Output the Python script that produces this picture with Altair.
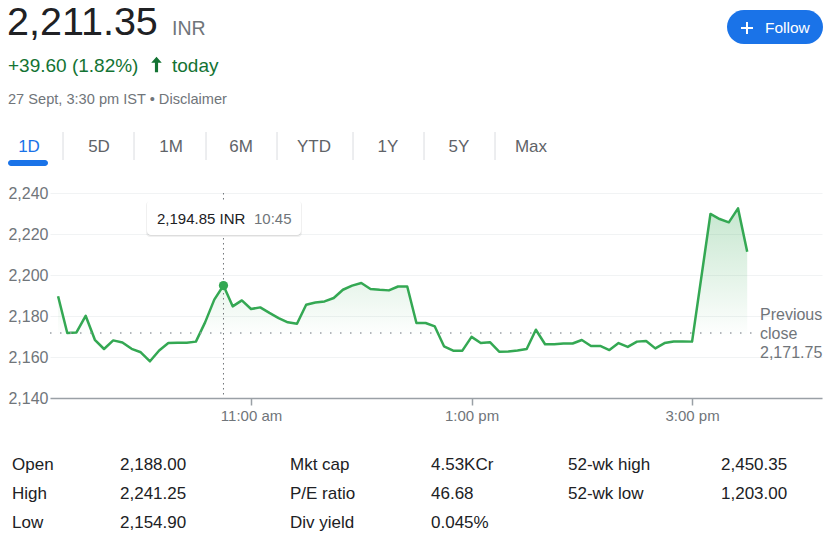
import altair as alt
import pandas as pd

FONT = "Liberation Sans, Arial, Helvetica, sans-serif"

# ---------------- data ----------------
times = [
    "9:15", "9:20", "9:25", "9:30", "9:35", "9:40", "9:45", "9:50", "9:55",
    "10:00", "10:05", "10:10", "10:15", "10:20", "10:25", "10:30", "10:35", "10:40", "10:45", "10:50", "10:55",
    "11:00", "11:05", "11:10", "11:15", "11:20", "11:25", "11:30", "11:35", "11:40", "11:45", "11:50", "11:55",
    "12:00", "12:05", "12:10", "12:15", "12:20", "12:25", "12:30", "12:35", "12:40", "12:45", "12:50", "12:55",
    "13:00", "13:05", "13:10", "13:15", "13:20", "13:25", "13:30", "13:35", "13:40", "13:45", "13:50", "13:55",
    "14:00", "14:05", "14:10", "14:15", "14:20", "14:25", "14:30", "14:35", "14:40", "14:45", "14:50", "14:55",
    "15:00", "15:10", "15:15", "15:20", "15:25", "15:30",
]
prices = [
    2189.6, 2171.7, 2172.0, 2180.1, 2168.4, 2163.9, 2168.1, 2167.1, 2164.0,
    2162.3, 2157.9, 2163.2, 2166.8, 2167.0, 2167.0, 2167.5, 2176.9, 2188.0, 2194.85, 2184.7, 2187.6,
    2183.4, 2184.2, 2181.5, 2179.0, 2176.9, 2176.2, 2185.5, 2186.6, 2187.1, 2188.8, 2192.8, 2194.8,
    2196.1, 2193.2, 2192.8, 2192.5, 2194.4, 2194.4, 2176.6, 2176.6, 2174.9, 2165.2, 2163.1, 2163.1,
    2169.8, 2166.8, 2167.2, 2162.6, 2162.7, 2163.2, 2163.9, 2173.3, 2166.2, 2166.2, 2166.6, 2166.6,
    2168.3, 2165.4, 2165.4, 2163.4, 2166.8, 2164.9, 2167.5, 2167.8, 2164.2, 2166.8, 2167.6, 2167.6,
    2167.5, 2229.8, 2227.3, 2225.7, 2232.5, 2211.35,
]
previous_close = 2171.75
hover_time = "10:45"
hover_price = 2194.85

y_ticks = [2140, 2160, 2180, 2200, 2220, 2240]
x_tick_times = ["11:00", "13:00", "15:00"]
x_tick_labels = ["11:00 am", "1:00 pm", "3:00 pm"]

price_now = "2,211.35"
currency = "INR"
change_text = "+39.60 (1.82%)"
change_suffix = "today"
timestamp_text = "27 Sept, 3:30 pm IST • Disclaimer"
tabs = ["1D", "5D", "1M", "6M", "YTD", "1Y", "5Y", "Max"]
follow_label = "Follow"

stat_col1_labels = ["Open", "High", "Low"]
stat_col1_values = ["2,188.00", "2,241.25", "2,154.90"]
stat_col2_labels = ["Mkt cap", "P/E ratio", "Div yield"]
stat_col2_values = ["4.53KCr", "46.68", "0.045%"]
stat_col3_labels = ["52-wk high", "52-wk low"]
stat_col3_values = ["2,450.35", "1,203.00"]


def to_min(t):
    h, m = t.split(":")
    return int(h) * 60 + int(m)


df = pd.DataFrame({"minute": [to_min(t) for t in times], "price": prices})
hover_df = pd.DataFrame({"minute": [to_min(hover_time)], "price": [hover_price]})
pc_df = pd.DataFrame({"price": [previous_close]})

# ---------------- layout ----------------
PL, PT, PR, PB = 50, 193, 11, 141
W, H = 833 - PL - PR, 539 - PT - PB
GREEN = "#34a853"
DARK = "#202124"
GREY = "#70757a"
BLUE = "#1a73e8"

tick_vals = [to_min(t) for t in x_tick_times]
label_expr = " : ".join(
    f"datum.value == {v} ? '{l}'" for v, l in zip(tick_vals, x_tick_labels)
) + " : ''"

x_enc = alt.X(
    "minute:Q",
    scale=alt.Scale(domain=[550.6, 970.7], nice=False, zero=False),
    axis=alt.Axis(
        values=tick_vals, labelExpr=label_expr, title=None, grid=False,
        domainColor="#9aa0a6", domainWidth=1.5, tickColor="#9aa0a6", tickWidth=1.5,
        tickSize=7, labelPadding=3, labelFontSize=15, labelColor=GREY, labelFont=FONT,
    ),
)
y_enc = alt.Y(
    "price:Q",
    scale=alt.Scale(domain=[2140, 2240], nice=False, zero=False),
    axis=alt.Axis(
        values=y_ticks, format=",.0f", title=None, grid=True, gridColor="#f1f3f4",
        domain=False, ticks=False, labelPadding=2, labelFontSize=16, labelColor=GREY,
        labelFont=FONT,
    ),
)

base = pd.DataFrame({"k": [0]})


def text_at(s, X, Y, size, color, weight="normal", align="left"):
    return alt.Chart(base).mark_text(
        text=s, align=align, baseline="alphabetic", fontSize=size, color=color,
        font=FONT, fontWeight=weight,
    ).encode(x=alt.value(X - PL), y=alt.value(Y - PT))


def rect_at(X1, Y1, X2, Y2, color, radius=0, opacity=1.0):
    return alt.Chart(base).mark_rect(color=color, cornerRadius=radius, opacity=opacity).encode(
        x=alt.value(X1 - PL), x2=alt.value(X2 - PL), y=alt.value(Y1 - PT), y2=alt.value(Y2 - PT)
    )


def rule_at(X1, Y1, X2, Y2, color, width=1):
    return alt.Chart(base).mark_rule(color=color, strokeWidth=width).encode(
        x=alt.value(X1 - PL), x2=alt.value(X2 - PL), y=alt.value(Y1 - PT), y2=alt.value(Y2 - PT)
    )


layers = []

# area + line
area = alt.Chart(df).mark_area(
    color=alt.Gradient(
        gradient="linear",
        stops=[
            alt.GradientStop(color="rgba(52,168,83,0.28)", offset=0),
            alt.GradientStop(color="rgba(52,168,83,0.0)", offset=0.68),
        ],
        x1=1, x2=1, y1=0, y2=1,
    ),
    line=False,
).encode(x=x_enc, y=y_enc, y2=alt.datum(2140))
line = alt.Chart(df).mark_line(color=GREEN, strokeWidth=2.5, strokeJoin="round").encode(x=x_enc, y=y_enc)
layers += [area, line]

# previous close dotted line
pc_rule = alt.Chart(pc_df).mark_rule(color="#9aa0a6", strokeWidth=1.5, strokeDash=[1.5, 8.5]).encode(
    y=alt.Y("price:Q"), x=alt.value(0), x2=alt.value(702)
)
layers.append(pc_rule)
layers += [
    text_at("Previous", 760, 320, 16, GREY),
    text_at("close", 760, 339, 16, GREY),
    text_at(f"{previous_close:,.2f}", 760, 358, 16, GREY),
]

# hover crosshair + point + tooltip
hover_rule = alt.Chart(hover_df).mark_rule(color=GREY, strokeWidth=1, strokeDash=[1.5, 3.5]).encode(
    x=alt.X("minute:Q"), y=alt.value(0), y2=alt.value(H)
)
hover_pt = alt.Chart(hover_df).mark_point(filled=True, color=GREEN, size=85, opacity=1).encode(
    x=alt.X("minute:Q"), y=alt.Y("price:Q")
)
layers += [hover_rule, hover_pt]
layers += [
    rect_at(146, 201, 302, 237, "#000000", radius=4, opacity=0.06),
    rect_at(147, 201, 301, 236, "#000000", radius=4, opacity=0.08),
    rect_at(147, 200, 301, 235, "#ffffff", radius=4),
    text_at(f"{hover_price:,.2f} {currency}", 157, 224, 15, DARK),
    text_at(hover_time, 254, 224, 15, GREY),
]

# header
layers += [
    text_at(price_now, 7, 35, 39.5, DARK),
    text_at(currency, 172, 35, 19.5, GREY),
    text_at(change_text, 8, 72, 19, "#137333"),
    text_at(change_suffix, 172, 72, 19, "#137333"),
    alt.Chart(base).mark_point(
        shape="M0,-1.5L1,-0.35H0.3V1.5H-0.3V-0.35H-1Z", filled=True, color="#137333",
        size=110, opacity=1, strokeWidth=0,
    ).encode(x=alt.value(156.5 - PL), y=alt.value(64.5 - PT)),
    text_at(timestamp_text, 8, 104, 14.6, GREY),
]

# follow button
layers += [
    rect_at(727, 10, 823, 44, BLUE, radius=17),
    rule_at(741, 28, 753, 28, "#ffffff", 2),
    rule_at(747, 22, 747, 34, "#ffffff", 2),
    text_at(follow_label, 765, 33, 15.5, "#ffffff"),
]

# tabs
tab_centers = [29, 99, 171, 241, 314, 388, 459, 531]
for i, (t, cx) in enumerate(zip(tabs, tab_centers)):
    layers.append(text_at(t, cx, 152, 17, BLUE if i == 0 else "#5f6368", align="center"))
for sx in [63, 134, 206, 277, 353, 424, 495]:
    layers.append(rule_at(sx, 132, sx, 160, "#dadce0", 1))
layers.append(rect_at(8, 160, 48, 166, BLUE, radius=3))

# stats table
rows_y = [470, 499, 528]
for labels, values, lx, vx in [
    (stat_col1_labels, stat_col1_values, 12, 120),
    (stat_col2_labels, stat_col2_values, 290, 431),
    (stat_col3_labels, stat_col3_values, 568, 721),
]:
    for lab, val, yy in zip(labels, values, rows_y):
        layers.append(text_at(lab, lx, yy, 17, DARK))
        layers.append(text_at(val, vx, yy, 17, DARK))

chart = alt.layer(*layers).properties(
    width=W, height=H,
    padding={"left": PL, "top": PT, "right": PR, "bottom": PB},
    autosize=alt.AutoSizeParams(type="none"),
    background="#ffffff",
).configure_view(stroke=None)

chart.save("out.html", embed_options={"renderer": "svg", "actions": False})
